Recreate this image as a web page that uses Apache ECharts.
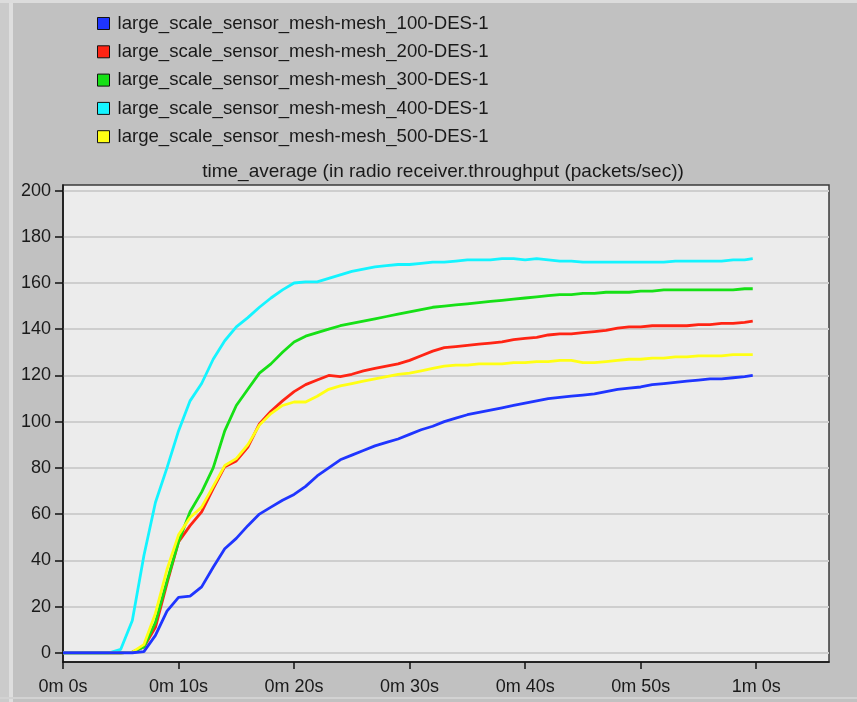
<!DOCTYPE html>
<html>
<head>
<meta charset="utf-8">
<script src="https://cdn.jsdelivr.net/npm/echarts@6/dist/echarts.min.js"></script>
<style>
html,body{margin:0;padding:0;background:#c1c1c1;}
#chart{width:857px;height:702px;}
</style>
</head>
<body>
<div id="chart"></div>
<script>
const times = [0,1,2,3,4,5,6,7,8,9,10,11,12,13,14,15,16,17,18,19,20,21,22,23,24,25,26,27,28,29,30,31,32,33,34,35,36,37,38,39,40,41,42,43,44,45,46,47,48,49,50,51,52,53,54,55,56,57,58,59,59.7];
const seriesNames = [
  'large_scale_sensor_mesh-mesh_100-DES-1',
  'large_scale_sensor_mesh-mesh_200-DES-1',
  'large_scale_sensor_mesh-mesh_300-DES-1',
  'large_scale_sensor_mesh-mesh_400-DES-1',
  'large_scale_sensor_mesh-mesh_500-DES-1'
];
const mesh100 = [0,0,0,0,0,0,0,0.5,7.5,18,24,24.5,28.5,37,45,49.5,55,60,63,66,68.5,72,76.5,80,83.5,85.5,87.5,89.5,91,92.5,94.5,96.5,98,100,101.5,103,104,105,106,107,108,109,110,110.5,111,111.5,112,113,114,114.5,115,116,116.5,117,117.5,118,118.5,118.5,119,119.5,120];
const mesh200 = [0,0,0,0,0,0,0.3,2.5,11,30,48,55,61,71,80.5,83,89,99,104.5,109,113,116,118,120,119.5,120.5,122,123,124,125,126.5,128.5,130.5,132,132.5,133,133.5,134,134.5,135.5,136,136.5,137.5,138,138,138.5,139,139.5,140.5,141,141,141.5,141.5,141.5,141.5,142,142,142.5,142.5,143,143.5];
const mesh300 = [0,0,0,0,0,0,0.3,2.5,13,31,48,61,69.5,80,96,107,114,121,125,130,134.5,137,138.5,140,141.5,142.5,143.5,144.5,145.5,146.5,147.5,148.5,149.5,150,150.5,151,151.5,152,152.5,153,153.5,154,154.5,155,155,155.5,155.5,156,156,156,156.5,156.5,157,157,157,157,157,157,157,157.5,157.5];
const mesh400 = [0,0,0,0,0,1.5,14,42,65,80,96,109,116.5,127,135,141,145,149.5,153.5,157,160,160.5,160.5,162,163.5,165,166,167,167.5,168,168,168.5,169,169,169.5,170,170,170,170.5,170.5,170,170.5,170,169.5,169.5,169,169,169,169,169,169,169,169,169.5,169.5,169.5,169.5,169.5,170,170,170.5];
const mesh500 = [0,0,0,0,0,0,0.3,3.5,17,36,51,58.5,63,72,81,84,90,98.5,103.5,107,108.5,108.5,111,114,115.5,116.5,117.5,118.5,119.5,120.5,121,122,123,124,124.5,124.5,125,125,125,125.5,125.5,126,126,126.5,126.5,125.5,125.5,126,126.5,127,127,127.5,127.5,128,128,128.5,128.5,128.5,129,129,129];
const yTicks = [0,20,40,60,80,100,120,140,160,180,200];
const colors = ['#1f35ff','#ff2414','#16e016','#14f4ff','#ffff14'];
const titleText = 'time_average (in radio receiver.throughput (packets/sec))';

const allValues = [mesh100, mesh200, mesh300, mesh400, mesh500];
const font = "'Liberation Sans', Arial, sans-serif";

const chart = echarts.init(document.getElementById('chart'), null, {renderer: 'canvas'});
chart.setOption({
  backgroundColor: '#c1c1c1',
  animation: false,
  graphic: [
    {type: 'rect', z: -10, silent: true, shape: {x: 0, y: 0, width: 9, height: 702}, style: {fill: '#cbcbcb'}},
    {type: 'rect', z: -10, silent: true, shape: {x: 9, y: 0, width: 4, height: 702}, style: {fill: '#dedede'}},
    {type: 'rect', z: -10, silent: true, shape: {x: 0, y: 0, width: 857, height: 3}, style: {fill: '#dcdcdc'}},
    {type: 'rect', z: -10, silent: true, shape: {x: 0, y: 697, width: 857, height: 2}, style: {fill: '#d2d2d2'}}
  ],
  title: {
    text: titleText,
    left: 438,
    top: 157,
    textAlign: 'center',
    textStyle: {fontFamily: font, fontSize: 19, fontWeight: 'normal', color: '#1a1a1a'}
  },
  legend: {
    orient: 'vertical',
    left: 97,
    top: 14,
    padding: 0,
    icon: 'rect',
    itemWidth: 12,
    itemHeight: 12,
    itemGap: 9.3,
    itemStyle: {borderColor: '#111', borderWidth: 1},
    lineStyle: {width: 0},
    textStyle: {fontFamily: font, fontSize: 18.6, color: '#1a1a1a', lineHeight: 18, padding: [0, 0, 0, 3]},
    data: seriesNames
  },
  grid: {
    left: 63, right: 28, top: 185, bottom: 40,
    show: true,
    backgroundColor: '#ececec',
    borderColor: '#3a3a3a',
    borderWidth: 1.5,
    containLabel: false
  },
  xAxis: {
    type: 'value',
    min: 0,
    max: 66.3,
    interval: 10,
    axisLine: {show: true, onZero: false, lineStyle: {color: '#111', width: 1.5}},
    axisTick: {show: true, length: 7, lineStyle: {color: '#111', width: 1.5}},
    splitLine: {show: false},
    axisLabel: {
      margin: 16,
      fontFamily: font, fontSize: 18, color: '#1a1a1a',
      showMaxLabel: false,
      formatter: function (v) { return Math.floor(v / 60) + 'm ' + Math.round(v % 60) + 's'; }
    }
  },
  yAxis: {
    type: 'value',
    min: -4,
    max: 202.4,
    axisLine: {show: true, onZero: false, lineStyle: {color: '#111', width: 1.5}},
    axisTick: {show: true, length: 8, customValues: yTicks, lineStyle: {color: '#111', width: 1.5}},
    splitLine: {show: true, lineStyle: {color: '#cecece', width: 2}},
    axisLabel: {
      margin: 12, customValues: yTicks,
      fontFamily: font, fontSize: 18, color: '#1a1a1a'
    }
  },
  series: seriesNames.map(function (name, i) {
    return {
      name: name,
      type: 'line',
      showSymbol: false,
      symbol: 'none',
      color: colors[i],
      lineStyle: {width: 2.8, color: colors[i]},
      z: 2 + (i === 0 ? 5 : i),
      data: times.map(function (t, k) { return [t, allValues[i][k]]; })
    };
  })
});
</script>
</body>
</html>
